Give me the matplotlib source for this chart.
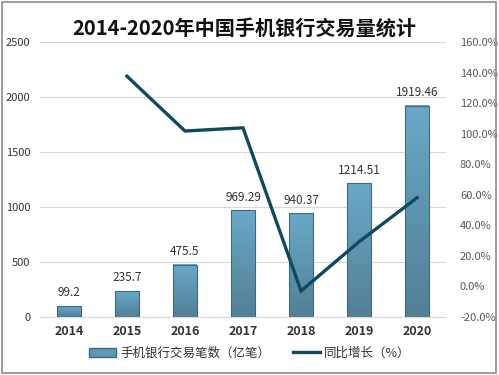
import numpy as np
import matplotlib.pyplot as plt
from matplotlib.colors import LinearSegmentedColormap
from matplotlib.patches import Rectangle
from matplotlib.lines import Line2D

plt.rcParams['font.family'] = ['Noto Sans CJK SC', 'DejaVu Sans']

years = ['2014', '2015', '2016', '2017', '2018', '2019', '2020']
volume = [99.2, 235.7, 475.5, 969.29, 940.37, 1214.51, 1919.46]
growth = [None, 137.6, 101.7, 103.8, -3.0, 29.2, 58.0]

fig = plt.figure(figsize=(4.99, 3.75), dpi=100)
ax = fig.add_axes([0.080, 0.155, 0.814, 0.733])

# gradient bars
cmap = LinearSegmentedColormap.from_list('bar', ['#537f94', '#68a9c8'])
grad = np.linspace(0, 1, 100).reshape(-1, 1)
w = 0.41
x = np.arange(len(years))
for xi, v in zip(x, volume):
    ax.imshow(grad, cmap=cmap, origin='lower', aspect='auto',
              extent=[xi - w/2, xi + w/2, 0, v], zorder=2)
    ax.add_patch(Rectangle((xi - w/2, 0), w, v, fill=False,
                           edgecolor='#41697c', lw=0.8, zorder=3))
    ax.text(xi, v + 60, str(v), ha='center', va='bottom', fontsize=8.5,
            color='#333333', zorder=4)

ax.set_xlim(-0.5, 6.5)
ax.set_ylim(0, 2500)
ax.set_yticks(range(0, 2501, 500))
ax.set_xticks(x)
ax.set_xticklabels(years, fontsize=9, fontweight='bold', color='#333333')
ax.tick_params(axis='y', labelsize=8, colors='#333333', length=0, pad=7)
ax.tick_params(axis='x', length=0, pad=6)
ax.grid(axis='y', color='#d9d9d9', lw=0.8, zorder=0)
for s in ax.spines.values():
    s.set_visible(False)
ax.spines['bottom'].set_visible(True)
ax.spines['bottom'].set_color('#d9d9d9')

ax2 = ax.twinx()
gx = [i for i, g in enumerate(growth) if g is not None]
gy = [g for g in growth if g is not None]
ax2.plot(gx, gy, color='#0e4a5f', lw=2.4, solid_joinstyle='miter', zorder=5)
ax2.set_ylim(-20, 160)
ax2.set_yticks(range(-20, 161, 20))
ax2.set_yticklabels(['%.1f%%' % t for t in range(-20, 161, 20)])
ax2.tick_params(axis='y', labelsize=8, colors='#595959', length=0, pad=10)
for s in ax2.spines.values():
    s.set_visible(False)
ax2.set_xlim(-0.5, 6.5)

fig.text(0.49, 0.925, '2014-2020年中国手机银行交易量统计', ha='center', va='center',
         fontsize=14.5, fontweight='bold', color='#111111')

handles = [Rectangle((0, 0), 1, 1, facecolor='#5f98b4', edgecolor='#41697c'),
           Line2D([], [], color='#0e4a5f', lw=2.4)]
fig.legend(handles, ['手机银行交易笔数（亿笔）', '同比增长（%）'], loc='center',
           bbox_to_anchor=(0.5, 0.058), ncol=2, frameon=False, fontsize=9,
           handlelength=2.2, handletextpad=0.3, columnspacing=1.8,
           labelcolor='#333333')

fig.add_artist(Rectangle((0.004, 0.006), 0.99, 0.988, transform=fig.transFigure,
                         fill=False, edgecolor='#8c8c8c', lw=1.2))

fig.savefig('out.png', dpi=100)
